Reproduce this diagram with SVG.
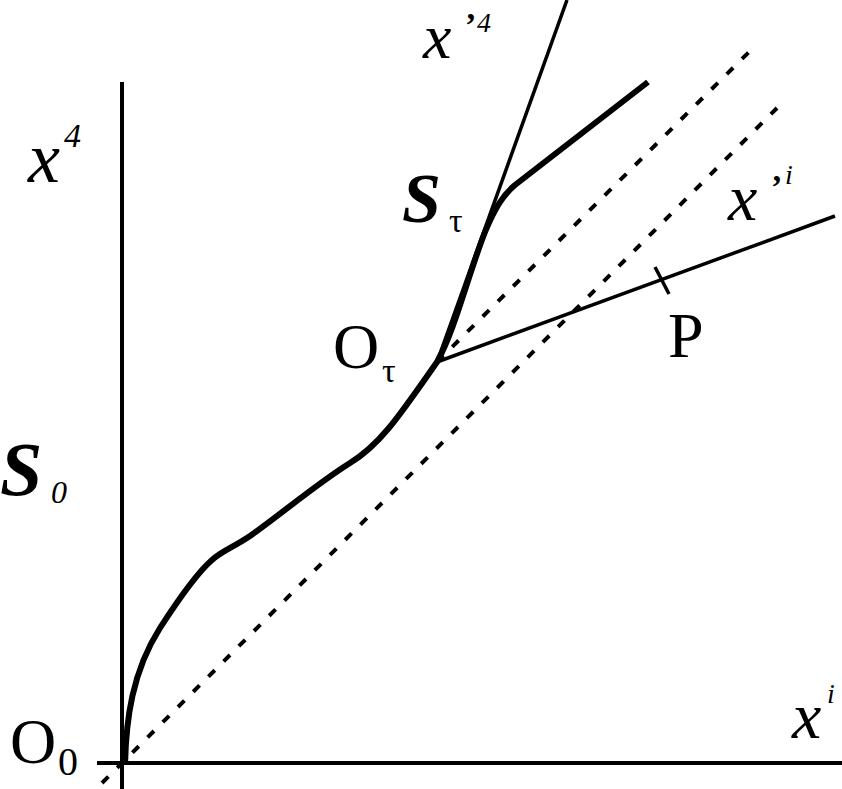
<svg xmlns="http://www.w3.org/2000/svg" width="842" height="789" viewBox="0 0 842 789">
<style>
.ax{stroke:#000;stroke-width:4;fill:none}
.thin{stroke:#000;stroke-width:3.5;fill:none}
.dash{stroke:#000;stroke-width:4;fill:none;stroke-dasharray:9 12.5}
.curve{stroke:#000;stroke-width:6;fill:none;stroke-linejoin:round}
text{font-family:'Liberation Serif',serif;fill:#000}
.it{font-style:italic}
.sc{font-style:italic;font-weight:bold}
</style>
<rect width="842" height="789" fill="#fff"/>
<g id="connectors">
<line class="ax" x1="122" y1="82" x2="122" y2="789"/>
<line class="ax" x1="97" y1="763" x2="842" y2="763"/>
<line class="dash" x1="102" y1="783" x2="777" y2="108"/>
<line class="dash" x1="437" y1="362" x2="756" y2="45"/>
<line class="thin" x1="437" y1="362" x2="567" y2="0"/>
<line class="thin" x1="437" y1="362" x2="835" y2="216"/>
<line class="thin" x1="655" y1="267" x2="669" y2="294"/>
<path class="curve" d="M125,765 C126,720 132,672 160,628 C180,597 198,572 212,560 C222,551 232,548 250,536 C280,515 315,485 350,463 C380,445 400,415 437,362 C455,330 468,275 485,232 C495,208 503,195 515,185 L648,82"/>
</g>
<g id="label-x4">
<text class="it" x="28" y="182" font-size="72">x</text>
<text class="it" x="64" y="147" font-size="34">4</text>
</g>
<g id="label-xp4">
<text class="it" x="423" y="58" font-size="64">x</text>
<text x="465" y="36" font-size="34" font-weight="bold">’</text>
<text class="it" x="477" y="32" font-size="28">4</text>
</g>
<g id="label-xpi">
<text class="it" x="728" y="220" font-size="66">x</text>
<text x="771" y="198" font-size="34" font-weight="bold">’</text>
<text class="it" x="785" y="184" font-size="28">i</text>
</g>
<g id="label-xi">
<text class="it" x="792" y="738" font-size="66">x</text>
<text class="it" x="827" y="703" font-size="28">i</text>
</g>
<g id="label-Otau">
<text x="333" y="368" font-size="64">O</text>
<text x="382" y="382" font-size="34">τ</text>
</g>
<g id="label-O0">
<text x="10" y="763" font-size="64">O</text>
<text x="58" y="775" font-size="40">0</text>
</g>
<g id="label-P">
<text x="668" y="357" font-size="64">P</text>
</g>
<g id="label-Stau">
<text class="sc" x="402" y="222" font-size="70">S</text>
<text x="449" y="232" font-size="34">τ</text>
</g>
<g id="label-S0">
<text class="sc" x="0" y="495" font-size="76">S</text>
<text class="it" x="51" y="503" font-size="32">0</text>
</g>
</svg>
